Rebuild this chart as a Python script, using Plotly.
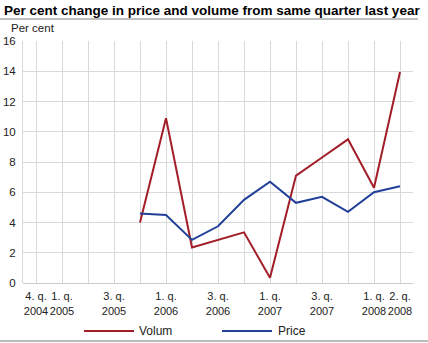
import plotly.graph_objects as go

categories = ["4. q. 2004", "1. q. 2005", "2. q. 2005", "3. q. 2005", "4. q. 2005",
              "1. q. 2006", "2. q. 2006", "3. q. 2006", "4. q. 2006",
              "1. q. 2007", "2. q. 2007", "3. q. 2007", "4. q. 2007",
              "1. q. 2008", "2. q. 2008"]
volum = [None, None, None, None, 4.0, 10.9, 2.35, 2.85, 3.35, 0.35, 7.1, 8.3, 9.5, 6.3, 13.95]
price = [None, None, None, None, 4.6, 4.5, 2.85, 3.75, 5.5, 6.7, 5.3, 5.7, 4.7, 6.0, 6.4]
tick_text = ["4. q.<br>2004", "1. q.<br>2005", "", "3. q.<br>2005", "",
             "1. q.<br>2006", "", "3. q.<br>2006", "",
             "1. q.<br>2007", "", "3. q.<br>2007", "",
             "1. q.<br>2008", "2. q.<br>2008"]
series_names = ["Volum", "Price"]

RED = "#a21d27"
BLUE = "#22409a"
FONT = "Liberation Sans, Arial, sans-serif"

# plot area in pixels: x 23..413, y 41..283
PW, PH = 390, 242
def px(x):
    return (x - 23) / PW
def py(y):
    return (283 - y) / PH

fig = go.Figure()
fig.add_trace(go.Scatter(x=categories, y=volum, name=series_names[0], mode="lines",
                         line=dict(color=RED, width=2), connectgaps=False, showlegend=False))
fig.add_trace(go.Scatter(x=categories, y=price, name=series_names[1], mode="lines",
                         line=dict(color=BLUE, width=2), connectgaps=False, showlegend=False))

LEG_Y = 331
legend_shapes = [
    dict(type="line", xref="paper", yref="paper", x0=px(84), x1=px(134), y0=py(LEG_Y), y1=py(LEG_Y),
         line=dict(color=RED, width=2)),
    dict(type="line", xref="paper", yref="paper", x0=px(222), x1=px(272), y0=py(LEG_Y), y1=py(LEG_Y),
         line=dict(color=BLUE, width=2)),
]
legend_texts = [
    dict(text=series_names[0], xref="paper", yref="paper", x=px(137), y=py(LEG_Y),
         xanchor="left", yanchor="middle", showarrow=False, font=dict(size=12, color="#222222")),
    dict(text=series_names[1], xref="paper", yref="paper", x=px(276), y=py(LEG_Y),
         xanchor="left", yanchor="middle", showarrow=False, font=dict(size=12, color="#222222")),
]

fig.update_layout(
    width=428, height=343,
    margin=dict(l=23, r=15, t=41, b=60, autoexpand=False),
    paper_bgcolor="white", plot_bgcolor="white",
    font=dict(family=FONT, size=11, color="#222222"),
    showlegend=False,
    annotations=[
        dict(text="<b>Per cent change in price and volume from same quarter last year</b>",
             xref="paper", yref="paper", x=px(2), y=py(10), xanchor="left", yanchor="middle",
             showarrow=False, font=dict(size=13.5, color="#000000")),
        dict(text="Per cent", xref="paper", yref="paper", x=px(9), y=py(28),
             xanchor="left", yanchor="middle", showarrow=False,
             font=dict(size=11.5, color="#222222")),
    ] + legend_texts,
    shapes=[
        dict(type="line", xref="paper", yref="paper", x0=px(0), x1=px(418),
             y0=py(19), y1=py(19), line=dict(color="#aaaaaa", width=1.5)),
        dict(type="line", xref="paper", yref="paper", x0=px(0), x1=px(428),
             y0=py(341), y1=py(341), line=dict(color="#bbbbbb", width=2)),
    ] + legend_shapes,
)
fig.update_xaxes(type="category", categoryorder="array", categoryarray=categories,
                 range=[-0.5, 14.5], tickmode="array", tickvals=categories, ticktext=tick_text,
                 showgrid=True, gridcolor="#d9d9d9", gridwidth=1, automargin=False,
                 showline=False, zeroline=False, ticks="outside", ticklen=3,
                 tickcolor="rgba(255,255,255,0)", tickangle=0,
                 tickfont=dict(size=11, color="#222222"))
fig.update_yaxes(range=[0, 16], dtick=2, tick0=0, showgrid=True, gridcolor="#d9d9d9",
                 gridwidth=1, zeroline=True, zerolinecolor="#cccccc", zerolinewidth=1,
                 showline=True, linecolor="#d9d9d9", linewidth=1, automargin=False,
                 ticks="outside", ticklen=4, tickcolor="rgba(255,255,255,0)",
                 tickfont=dict(size=11.5, color="#222222"))

fig.write_html("out.html")
